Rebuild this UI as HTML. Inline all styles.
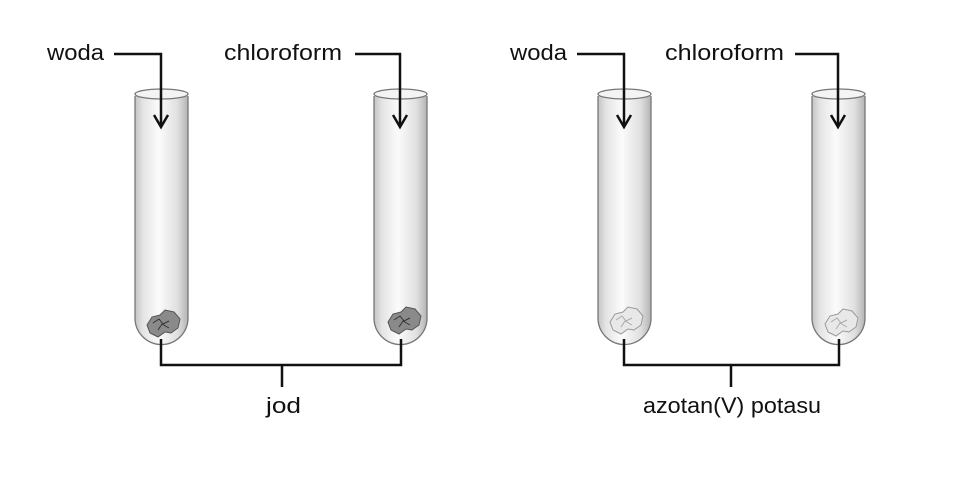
<!DOCTYPE html>
<html><head><meta charset="utf-8"><style>
html,body{margin:0;padding:0;background:#fff;}
svg{display:block}
text{font-family:"Liberation Sans",sans-serif;font-size:22px;fill:#111;}
</style></head><body>
<svg width="960" height="478" viewBox="0 0 960 478" xmlns="http://www.w3.org/2000/svg">
<defs>
<linearGradient id="g" x1="0" x2="1" y1="0" y2="0">
<stop offset="0" stop-color="#c4c4c4"/>
<stop offset="0.15" stop-color="#e4e4e4"/>
<stop offset="0.45" stop-color="#fbfbfb"/>
<stop offset="0.8" stop-color="#e0e0e0"/>
<stop offset="1" stop-color="#b4b4b4"/>
</linearGradient>
<g id="tube">
<path d="M0 8 L0 230 A26.5 26.5 0 0 0 53 230 L53 8" fill="url(#g)" stroke="#777" stroke-width="1.3"/>
<ellipse cx="26.5" cy="6" rx="26.5" ry="5" fill="#f4f4f4" stroke="#777" stroke-width="1.3"/>
</g>
<g id="crys">
<path d="M-14 0 l5 -8 l8 -2 l5 -5 l9 2 l6 7 l-2 9 l-7 5 l-6 -1 l-7 5 l-8 -4 z" fill="#8a8a8a" stroke="#555" stroke-width="1"/>
<path d="M-8 -2 l6 -4 l4 5 l6 -3 M-3 5 l4 -6 l7 4" fill="none" stroke="#333" stroke-width="1"/>
</g>
<g id="crysL">
<path d="M-14 0 l5 -8 l8 -2 l5 -5 l9 2 l6 7 l-2 9 l-7 5 l-6 -1 l-7 5 l-8 -4 z" fill="#e8e8e8" stroke="#999" stroke-width="1"/>
<path d="M-8 -2 l6 -4 l4 5 l6 -3 M-3 5 l4 -6 l7 4" fill="none" stroke="#aaa" stroke-width="1"/>
</g>
</defs>
<use href="#tube" x="135" y="88"/>
<use href="#tube" x="374" y="88"/>
<use href="#tube" x="598" y="88"/>
<use href="#tube" x="812" y="88"/>
<use href="#crys" x="161" y="325"/>
<use href="#crys" x="402" y="322"/>
<use href="#crysL" x="624" y="322"/>
<use href="#crysL" x="839" y="324"/>
<g fill="none" stroke="#111" stroke-width="2.5">
<path d="M114 54 H161 V126"/><path d="M154 115 L161 127 L168 115"/>
<path d="M355 54 H400 V126"/><path d="M393 115 L400 127 L407 115"/>
<path d="M577 54 H624 V126"/><path d="M617 115 L624 127 L631 115"/>
<path d="M795 54 H838 V126"/><path d="M831 115 L838 127 L845 115"/>
<path d="M161 339 V365 H401 V339 M282 365 V387"/>
<path d="M624 339 V365 H839 V339 M731 365 V387"/>
</g>
<text x="47" y="60" textLength="57" lengthAdjust="spacingAndGlyphs">woda</text>
<text x="224" y="60" textLength="118" lengthAdjust="spacingAndGlyphs">chloroform</text>
<text x="510" y="60" textLength="57" lengthAdjust="spacingAndGlyphs">woda</text>
<text x="665" y="60" textLength="119" lengthAdjust="spacingAndGlyphs">chloroform</text>
<text x="266" y="413" textLength="35" lengthAdjust="spacingAndGlyphs">jod</text>
<text x="643" y="413" textLength="178" lengthAdjust="spacingAndGlyphs">azotan(V) potasu</text>
</svg>
</body></html>
